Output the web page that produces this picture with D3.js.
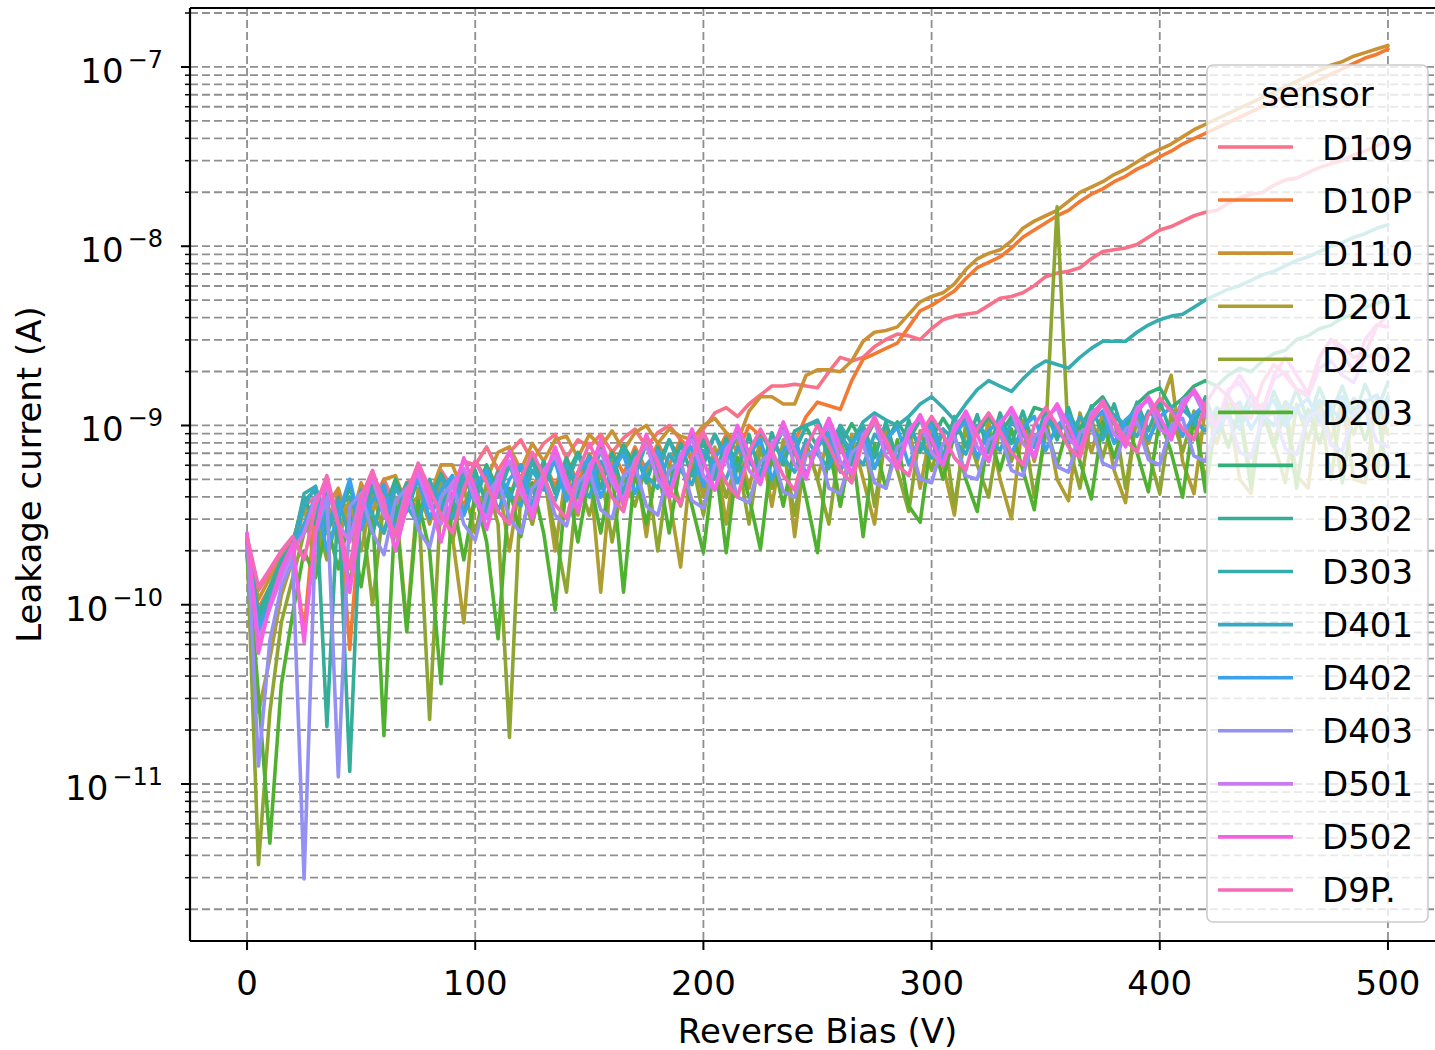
<!DOCTYPE html>
<html>
<head>
<meta charset="utf-8">
<script src="https://cdn.jsdelivr.net/npm/d3@7"></script>
<style>
  body { margin: 0; background: #fff; overflow: hidden; }
  svg text { font-family: "DejaVu Sans", sans-serif; fill: #000; }
</style>
</head>
<body>
<svg id="chart" width="1435" height="1050"></svg>
<script>
// reverse bias sweep, 0 V to 500 V in 5 V steps
const bias = d3.range(0, 501, 5)

const sensors = ["D109", "D10P", "D110", "D201", "D202", "D203", "D301", "D302", "D303",
    "D401", "D402", "D403", "D501", "D502", "D9P."]

// leakage current per sensor as log10(I / A)
const D109 = [-9.62,-9.92,-9.82,-9.72,-9.64,-9.45,-9.40,-9.55,-9.38,-9.50,
    -9.35,-9.42,-9.30,-9.45,-9.32,-9.28,-9.40,-9.25,-9.35,-9.20,
    -9.22,-9.12,-9.25,-9.15,-9.08,-9.20,-9.10,-9.05,-9.18,-9.08,
    -9.12,-9.05,-9.15,-9.07,-9.02,-9.12,-9.04,-9.00,-9.08,-9.13,
    -9.02,-8.93,-8.90,-8.95,-8.88,-8.83,-8.78,-8.78,-8.77,-8.78,
    -8.79,-8.70,-8.62,-8.64,-8.62,-8.56,-8.52,-8.49,-8.50,-8.52,
    -8.46,-8.41,-8.39,-8.38,-8.37,-8.33,-8.29,-8.28,-8.26,-8.22,
    -8.17,-8.15,-8.14,-8.12,-8.07,-8.03,-8.02,-8.01,-7.99,-7.95,
    -7.91,-7.89,-7.86,-7.83,-7.81,-7.80,-7.76,-7.73,-7.71,-7.70,
    -7.66,-7.63,-7.62,-7.59,-7.56,-7.54,-7.52,-7.49,-7.47,-7.44,
    -7.41]
const D10P = [-9.66,-10.02,-9.90,-9.78,-9.68,-10.15,-9.45,-9.60,-9.40,-10.25,
    -9.45,-9.60,-9.38,-9.55,-9.35,-9.50,-9.32,-9.48,-9.30,-9.45,
    -9.28,-9.42,-9.25,-9.40,-9.22,-9.36,-9.20,-9.34,-9.18,-9.32,
    -9.16,-9.28,-9.14,-9.27,-9.12,-9.25,-9.10,-9.22,-9.08,-9.20,
    -9.06,-9.18,-9.05,-9.15,-9.00,-9.06,-9.12,-9.15,-9.09,-8.95,
    -8.87,-8.89,-8.91,-8.75,-8.63,-8.60,-8.57,-8.54,-8.45,-8.36,
    -8.33,-8.29,-8.25,-8.18,-8.12,-8.09,-8.06,-8.01,-7.95,-7.91,
    -7.87,-7.83,-7.80,-7.75,-7.71,-7.68,-7.64,-7.61,-7.57,-7.54,
    -7.50,-7.47,-7.43,-7.40,-7.37,-7.34,-7.31,-7.28,-7.25,-7.22,
    -7.19,-7.16,-7.13,-7.10,-7.07,-7.04,-7.01,-6.98,-6.95,-6.93,
    -6.90]
const D110 = [-9.64,-9.97,-9.85,-9.75,-9.66,-9.40,-9.62,-9.45,-9.35,-9.58,
    -9.32,-9.48,-9.30,-9.28,-9.45,-9.25,-9.40,-9.22,-9.22,-9.38,
    -9.20,-9.30,-9.15,-9.12,-9.25,-9.10,-9.20,-9.08,-9.06,-9.18,
    -9.05,-9.12,-9.03,-9.14,-9.04,-9.00,-9.10,-9.02,-9.06,-9.08,
    -9.00,-8.96,-9.04,-9.09,-8.92,-8.84,-8.84,-8.88,-8.88,-8.72,
    -8.69,-8.69,-8.70,-8.64,-8.53,-8.48,-8.47,-8.45,-8.38,-8.31,
    -8.28,-8.26,-8.21,-8.13,-8.07,-8.04,-8.02,-7.97,-7.90,-7.86,
    -7.83,-7.80,-7.75,-7.70,-7.67,-7.64,-7.60,-7.57,-7.53,-7.49,
    -7.46,-7.43,-7.39,-7.35,-7.32,-7.29,-7.26,-7.23,-7.20,-7.17,
    -7.14,-7.11,-7.08,-7.05,-7.02,-6.99,-6.97,-6.94,-6.92,-6.90,
    -6.88]
const D201 = [-9.70,-10.60,-10.30,-9.95,-9.75,-9.45,-9.80,-9.42,-9.65,-9.40,
    -9.70,-9.38,-9.60,-9.40,-10.12,-9.35,-9.55,-9.32,-9.62,-10.10,
    -9.35,-9.50,-9.30,-9.70,-9.28,-9.55,-9.25,-9.70,-9.25,-9.50,
    -9.22,-9.93,-9.20,-9.45,-9.18,-9.62,-9.15,-9.40,-9.79,-9.15,
    -9.40,-9.12,-9.55,-9.10,-9.35,-9.08,-9.45,-9.08,-9.62,-9.10,
    -9.30,-9.05,-9.45,-9.05,-9.30,-9.55,-9.02,-9.25,-9.00,-9.35,
    -9.00,-9.22,-9.50,-8.98,-9.20,-8.98,-9.30,-9.52,-8.97,-9.20,
    -8.95,-9.30,-9.42,-8.93,-9.15,-8.93,-9.25,-9.43,-8.92,-9.10,
    -8.90,-8.72,-9.20,-9.38,-8.90,-9.10,-8.88,-9.30,-9.38,-8.88,
    -9.10,-8.87,-9.28,-9.35,-8.86,-9.08,-8.86,-9.30,-9.32,-8.85,
    -9.05]
const D202 = [-9.68,-11.45,-10.60,-10.10,-9.85,-9.60,-9.50,-9.75,-9.48,-9.90,
    -9.45,-10.00,-9.42,-9.70,-9.45,-9.40,-10.64,-9.40,-9.65,-9.35,
    -9.60,-9.32,-9.55,-10.74,-9.35,-9.55,-9.28,-9.60,-9.93,-9.30,
    -9.50,-9.25,-9.65,-9.28,-9.45,-9.22,-9.70,-9.22,-9.45,-9.20,
    -9.50,-9.15,-9.40,-9.18,-9.55,-9.12,-9.35,-9.12,-9.50,-9.10,
    -9.30,-9.55,-9.08,-9.30,-9.05,-9.45,-9.05,-9.25,-9.48,-9.03,
    -9.25,-9.02,-9.45,-9.02,-9.22,-9.40,-9.00,-9.20,-8.98,-9.40,
    -9.05,-7.78,-9.10,-9.35,-8.96,-9.18,-8.95,-9.35,-8.95,-9.15,
    -9.38,-8.93,-9.15,-8.92,-9.32,-8.92,-9.12,-8.90,-9.30,-8.90,
    -9.10,-9.32,-8.88,-9.08,-8.88,-9.30,-8.87,-9.05,-8.86,-9.28,
    -8.86]
const D203 = [-9.72,-10.50,-11.33,-10.45,-10.05,-9.70,-9.85,-9.55,-9.80,-9.50,
    -9.90,-9.48,-10.73,-9.45,-10.15,-9.42,-9.70,-10.44,-9.40,-9.75,
    -9.38,-9.65,-10.19,-9.35,-9.62,-9.32,-9.60,-10.03,-9.30,-9.65,
    -9.28,-9.60,-9.25,-9.93,-9.25,-9.55,-9.22,-9.60,-9.20,-9.45,
    -9.71,-9.18,-9.71,-9.18,-9.40,-9.69,-9.15,-9.45,-9.12,-9.40,
    -9.71,-9.12,-9.45,-9.10,-9.62,-9.10,-9.35,-9.08,-9.45,-9.54,
    -9.06,-9.30,-9.05,-9.30,-9.48,-9.04,-9.25,-9.02,-9.25,-9.47,
    -9.00,-9.22,-8.99,-9.20,-9.41,-8.98,-9.18,-8.97,-9.15,-9.37,
    -8.96,-9.15,-9.40,-8.95,-9.37,-8.94,-9.12,-8.93,-9.35,-8.92,
    -9.12,-8.92,-9.35,-8.91,-9.10,-8.90,-9.32,-8.90,-9.08,-8.89,
    -9.30]
const D301 = [-9.63,-10.08,-9.92,-9.80,-9.70,-9.40,-9.55,-9.38,-9.50,-9.35,
    -9.52,-9.33,-9.48,-9.30,-9.45,-9.28,-9.42,-9.27,-9.40,-9.25,
    -9.38,-9.22,-9.36,-9.20,-9.33,-9.18,-9.30,-9.16,-9.28,-9.15,
    -9.27,-9.13,-9.25,-9.11,-9.23,-9.10,-9.22,-9.08,-9.20,-9.07,
    -9.18,-9.05,-9.17,-9.04,-9.15,-9.03,-9.14,-9.02,-9.13,-9.01,
    -9.12,-9.00,-9.11,-8.99,-9.10,-8.98,-9.09,-8.98,-9.08,-8.97,
    -9.07,-8.96,-9.06,-8.96,-9.05,-8.95,-9.05,-8.95,-9.04,-8.90,
    -8.92,-9.04,-8.95,-9.02,-8.90,-8.84,-8.95,-9.00,-8.88,-8.82,
    -8.79,-8.90,-8.85,-8.78,-8.75,-8.78,-8.72,-8.68,-8.70,-8.64,
    -8.60,-8.58,-8.52,-8.50,-8.46,-8.44,-8.40,-8.38,-8.34,-8.32,
    -8.30]
const D302 = [-9.65,-10.05,-9.90,-9.75,-9.66,-9.42,-9.36,-10.68,-9.40,-10.93,
    -9.38,-9.60,-9.35,-9.52,-9.32,-9.55,-9.30,-9.48,-9.28,-9.50,
    -9.25,-9.45,-9.26,-9.42,-9.22,-9.45,-9.20,-9.38,-9.18,-9.40,
    -9.17,-9.35,-9.15,-9.38,-9.14,-9.32,-9.12,-9.35,-9.10,-9.28,
    -9.08,-9.30,-9.07,-9.25,-9.05,-9.28,-9.04,-9.22,-9.03,-9.00,
    -8.98,-9.20,-9.02,-9.22,-9.00,-9.18,-8.98,-9.20,-8.97,-9.15,
    -8.96,-9.18,-8.95,-9.12,-8.94,-9.15,-8.93,-9.10,-8.92,-9.12,
    -8.91,-9.08,-8.90,-9.10,-8.89,-9.05,-8.88,-9.08,-8.87,-9.03,
    -8.86,-9.05,-8.85,-9.00,-8.84,-9.02,-8.83,-8.98,-8.82,-9.00,
    -8.81,-8.96,-8.80,-8.98,-8.79,-8.94,-8.78,-8.96,-8.77,-8.92,
    -8.76]
const D303 = [-9.66,-10.10,-9.95,-9.80,-9.68,-9.38,-9.34,-9.60,-9.45,-9.40,
    -9.55,-9.35,-9.50,-9.33,-9.48,-9.30,-9.46,-9.28,-9.44,-9.26,
    -9.42,-9.24,-9.40,-9.22,-9.38,-9.20,-9.36,-9.18,-9.34,-9.16,
    -9.32,-9.14,-9.30,-9.12,-9.28,-9.10,-9.26,-9.08,-9.24,-9.06,
    -9.22,-9.05,-9.20,-9.04,-9.18,-9.03,-9.16,-9.02,-9.15,-9.00,
    -8.97,-9.12,-9.00,-9.10,-8.98,-8.93,-8.97,-9.00,-8.95,-8.88,
    -8.84,-8.90,-8.97,-8.88,-8.80,-8.75,-8.78,-8.81,-8.74,-8.68,
    -8.64,-8.66,-8.68,-8.62,-8.57,-8.53,-8.53,-8.53,-8.48,-8.44,
    -8.41,-8.39,-8.38,-8.34,-8.30,-8.27,-8.24,-8.22,-8.19,-8.16,
    -8.14,-8.11,-8.08,-8.06,-8.03,-8.00,-7.98,-7.95,-7.93,-7.90,
    -7.88]
const D401 = [-9.64,-10.12,-9.98,-9.80,-9.68,-9.45,-9.34,-9.55,-9.42,-9.62,
    -9.36,-9.50,-9.60,-9.35,-9.45,-9.55,-9.32,-9.42,-9.52,-9.30,
    -9.40,-9.48,-9.27,-9.38,-9.45,-9.25,-9.35,-9.42,-9.22,-9.32,
    -9.40,-9.20,-9.30,-9.38,-9.18,-9.28,-9.35,-9.16,-9.25,-9.33,
    -9.14,-9.22,-9.30,-9.12,-9.20,-9.28,-9.10,-9.18,-9.26,-9.08,
    -9.16,-9.24,-9.06,-9.14,-9.22,-9.05,-9.12,-9.20,-9.03,-9.10,
    -9.18,-9.02,-9.08,-9.16,-9.00,-9.06,-9.14,-8.98,-9.05,-9.12,
    -8.97,-9.03,-9.10,-8.95,-9.02,-9.08,-8.94,-9.00,-9.06,-8.92,
    -8.98,-9.05,-8.91,-8.97,-9.03,-8.90,-8.95,-9.02,-8.88,-8.94,
    -9.00,-8.87,-8.92,-8.98,-8.86,-8.91,-8.97,-8.85,-8.90,-8.96,
    -8.84]
const D402 = [-9.63,-10.15,-10.00,-9.82,-9.70,-9.55,-9.40,-9.70,-9.50,-9.30,
    -9.58,-9.42,-9.33,-9.60,-9.38,-9.30,-9.52,-9.36,-9.28,-9.50,
    -9.33,-9.25,-9.48,-9.30,-9.22,-9.45,-9.28,-9.20,-9.42,-9.26,
    -9.18,-9.40,-9.24,-9.16,-9.38,-9.22,-9.14,-9.36,-9.20,-9.12,
    -9.34,-9.18,-9.10,-9.32,-9.16,-9.08,-9.30,-9.14,-9.06,-9.28,
    -9.12,-9.04,-9.26,-9.10,-9.03,-9.24,-9.08,-9.01,-9.22,-9.06,
    -9.00,-9.20,-9.04,-8.98,-9.18,-9.03,-8.97,-9.16,-9.01,-8.95,
    -9.14,-9.00,-8.94,-9.12,-8.98,-8.92,-9.10,-8.97,-8.91,-9.08,
    -8.95,-8.90,-9.06,-8.94,-8.88,-9.04,-8.92,-8.87,-9.02,-8.91,
    -8.86,-9.00,-8.90,-8.85,-8.98,-8.88,-8.84,-8.96,-8.87,-8.83,
    -8.94]
const D403 = [-9.60,-10.90,-10.20,-9.90,-9.75,-11.53,-9.60,-9.40,-10.96,-9.45,
    -9.38,-9.60,-9.72,-9.42,-9.35,-9.58,-9.68,-9.40,-9.32,-9.55,
    -9.64,-9.38,-9.30,-9.52,-9.60,-9.35,-9.28,-9.50,-9.56,-9.32,
    -9.25,-9.47,-9.52,-9.28,-9.22,-9.45,-9.50,-9.25,-9.20,-9.42,
    -9.46,-9.22,-9.18,-9.40,-9.43,-9.20,-9.15,-9.37,-9.40,-9.17,
    -9.12,-9.35,-9.38,-9.15,-9.10,-9.32,-9.35,-9.12,-9.08,-9.30,
    -9.32,-9.10,-9.06,-9.28,-9.30,-9.08,-9.04,-9.25,-9.28,-9.06,
    -9.02,-9.23,-9.26,-9.04,-9.00,-9.21,-9.24,-9.02,-8.98,-9.19,
    -9.22,-9.00,-8.96,-9.17,-9.20,-8.98,-8.95,-9.15,-9.18,-8.96,
    -8.93,-9.13,-9.16,-8.95,-8.92,-9.11,-9.14,-8.93,-8.90,-9.09,
    -9.12]
const D501 = [-9.62,-10.20,-10.02,-9.85,-9.70,-9.60,-9.40,-9.35,-9.55,-9.65,
    -9.38,-9.30,-9.50,-9.60,-9.35,-9.27,-9.45,-9.55,-9.32,-9.24,
    -9.42,-9.52,-9.28,-9.20,-9.38,-9.48,-9.25,-9.17,-9.35,-9.45,
    -9.22,-9.14,-9.32,-9.42,-9.19,-9.11,-9.30,-9.40,-9.16,-9.08,
    -9.28,-9.36,-9.13,-9.05,-9.25,-9.33,-9.10,-9.03,-9.22,-9.30,
    -9.08,-9.00,-9.20,-9.27,-9.05,-8.98,-9.17,-9.24,-9.02,-8.96,
    -9.15,-9.22,-9.00,-8.94,-9.12,-9.20,-8.98,-8.92,-9.10,-9.17,
    -8.96,-8.90,-9.07,-9.14,-8.93,-8.88,-9.05,-9.10,-8.90,-8.86,
    -9.02,-9.06,-8.86,-8.82,-8.95,-9.00,-8.80,-8.76,-8.88,-8.92,
    -8.74,-8.70,-8.80,-8.84,-8.68,-8.64,-8.72,-8.76,-8.62,-8.60,
    -8.64]
const D502 = [-9.60,-10.27,-10.00,-9.80,-9.66,-10.21,-9.60,-9.30,-9.55,-9.93,
    -9.50,-9.26,-9.42,-9.70,-9.45,-9.22,-9.40,-9.65,-9.40,-9.18,
    -9.36,-9.58,-9.35,-9.14,-9.32,-9.52,-9.30,-9.12,-9.30,-9.48,
    -9.27,-9.08,-9.26,-9.44,-9.24,-9.05,-9.22,-9.40,-9.20,-9.02,
    -9.20,-9.36,-9.17,-9.00,-9.16,-9.32,-9.14,-8.98,-9.14,-9.29,
    -9.10,-8.96,-9.12,-9.27,-9.08,-8.95,-9.10,-9.24,-9.05,-8.94,
    -9.08,-9.22,-9.03,-8.92,-9.05,-9.20,-9.00,-8.90,-9.02,-9.18,
    -8.98,-8.88,-9.00,-9.15,-8.96,-8.86,-8.98,-9.12,-8.93,-8.84,
    -8.95,-9.08,-8.90,-8.80,-8.90,-9.00,-8.82,-8.72,-8.82,-8.92,
    -8.72,-8.62,-8.72,-8.82,-8.62,-8.52,-8.60,-8.70,-8.52,-8.44,
    -8.45]
const D9P = [-9.62,-9.90,-9.80,-9.70,-9.62,-9.75,-9.45,-9.28,-9.55,-9.80,
    -9.40,-9.25,-9.45,-9.62,-9.38,-9.21,-9.35,-9.50,-9.60,-9.35,
    -9.20,-9.32,-9.48,-9.55,-9.30,-9.15,-9.28,-9.44,-9.52,-9.26,
    -9.10,-9.24,-9.40,-9.48,-9.22,-9.07,-9.20,-9.36,-9.44,-9.18,
    -9.04,-9.17,-9.32,-9.40,-9.15,-9.02,-9.14,-9.28,-9.36,-9.12,
    -9.00,-9.11,-9.25,-9.32,-9.08,-8.97,-9.08,-9.22,-9.28,-9.05,
    -8.95,-9.05,-9.18,-9.25,-9.02,-8.93,-9.03,-9.15,-9.22,-9.00,
    -8.90,-9.00,-9.12,-9.18,-8.97,-8.88,-8.97,-9.08,-9.15,-8.94,
    -8.85,-8.92,-9.02,-9.08,-8.88,-8.78,-8.84,-8.92,-8.96,-8.76,
    -8.66,-8.72,-8.80,-8.82,-8.62,-8.52,-8.56,-8.62,-8.60,-8.45,
    -8.38]

const logCurrents = [D109, D10P, D110, D201, D202, D203, D301, D302, D303,
    D401, D402, D403, D501, D502, D9P]

const xTicks = [0, 100, 200, 300, 400, 500]
const yDecades = [-11, -10, -9, -8, -7]

// seaborn "husl" palette (old husl.py maths), 15 hues
const M = [[3.2406, -1.5372, -0.4986], [-0.9689, 1.8758, 0.0415], [0.0557, -0.2040, 1.0570]]
function maxChroma(L, H) {
    const hr = H * Math.PI / 180
    const sinH = Math.sin(hr), cosH = Math.cos(hr)
    const sub1 = Math.pow(L + 16, 3) / 1560896
    const sub2 = sub1 > 0.008856 ? sub1 : L / 903.3
    let result = Infinity
    M.forEach(([m1, m2, m3]) => {
        const tp = (0.99915 * m1 + 1.05122 * m2 + 1.14460 * m3) * sub2
        const rbottom = 0.86330 * m3 - 0.17266 * m2
        const lbottom = 0.12949 * m3 - 0.38848 * m1
        const bt = (rbottom * sinH + lbottom * cosH) * sub2
        for (const t of [0, 1]) {
            const C = L * (tp - 1.05122 * t) / (bt + 0.17266 * sinH * t)
            if (C > 0 && C < result) result = C
        }
    })
    return result
}
function huslToHex(h, s, l) {
    const C = maxChroma(l, h) / 100 * s
    const hr = h * Math.PI / 180
    const U = Math.cos(hr) * C, V = Math.sin(hr) * C
    const t = (l + 16) / 116
    const Y = Math.pow(t, 3) > 0.008856 ? Math.pow(t, 3) : (116 * t - 16) / 903.3
    const varU = U / (13 * l) + 0.19784
    const varV = V / (13 * l) + 0.46834
    const X = -(9 * Y * varU) / ((varU - 4) * varV - varU * varV)
    const Z = (9 * Y - 15 * varV * Y - varV * X) / (3 * varV)
    const rgb = M.map(r => {
        const c = r[0] * X + r[1] * Y + r[2] * Z
        const v = c <= 0.0031308 ? 12.92 * c : 1.055 * Math.pow(c, 1 / 2.4) - 0.055
        return Math.round(Math.max(0, Math.min(1, v)) * 255)
    })
    return d3.rgb(...rgb).formatHex()
}
const colors = sensors.map((s, i) => huslToHex(((i / sensors.length + 0.01) % 1) * 359, 0.9 * 99, 0.65 * 99))

const svg = d3.select("#chart")
svg.append("rect").attr("width", 1435).attr("height", 1050).attr("fill", "#fff")

const axLeft = 190, axTop = 8, axBottom = 941, axRight = 1445
const x = d3.scaleLinear().domain([-25, 525]).range([axLeft, axRight])
const y = d3.scaleLog().domain([Math.pow(10, -11.876), Math.pow(10, -6.671)]).range([axBottom, axTop])

// all decade and minor tick values inside the y range
const yAll = []
for (let k = -12; k <= -7; k++) {
    for (let m = 1; m <= 9; m++) {
        const v = m * Math.pow(10, k)
        if (v >= y.domain()[0] && v <= y.domain()[1]) yAll.push({ v: v, major: m === 1 })
    }
}

// grid (both major and minor on y, major on x)
const grid = svg.append("g")
    .attr("stroke", "#8f8f8f").attr("stroke-width", 1.8).attr("stroke-dasharray", "8,4")
grid.selectAll(".gy").data(yAll).enter().append("line")
    .attr("x1", axLeft).attr("x2", axRight)
    .attr("y1", d => y(d.v)).attr("y2", d => y(d.v))
grid.selectAll(".gx").data(xTicks).enter().append("line")
    .attr("x1", d => x(d)).attr("x2", d => x(d))
    .attr("y1", axTop).attr("y2", axBottom)

// one line per sensor, drawn in hue order
const line = d3.line()
    .x((d, i) => x(bias[i]))
    .y(d => y(Math.pow(10, d)))
svg.append("g").selectAll("path")
    .data(logCurrents)
    .enter()
    .append("path")
    .attr("d", d => line(d))
    .attr("fill", "none")
    .attr("stroke", (d, i) => colors[i])
    .attr("stroke-width", 3.6)
    .attr("stroke-linejoin", "round")
    .attr("stroke-linecap", "round")

// spines
const spines = svg.append("g").attr("stroke", "#000").attr("stroke-width", 2.2)
spines.append("line").attr("x1", axLeft).attr("x2", axLeft).attr("y1", axTop).attr("y2", axBottom)
spines.append("line").attr("x1", axLeft).attr("x2", axRight).attr("y1", axBottom).attr("y2", axBottom)
spines.append("line").attr("x1", axLeft).attr("x2", axRight).attr("y1", axTop).attr("y2", axTop)

// ticks
svg.append("g").selectAll("line").data(xTicks).enter().append("line")
    .attr("x1", d => x(d)).attr("x2", d => x(d))
    .attr("y1", axBottom).attr("y2", axBottom + 9)
    .attr("stroke", "#000").attr("stroke-width", 2)
svg.append("g").selectAll("line").data(yAll).enter().append("line")
    .attr("x1", axLeft).attr("x2", d => d.major ? axLeft - 9 : axLeft - 5)
    .attr("y1", d => y(d.v)).attr("y2", d => y(d.v))
    .attr("stroke", "#000").attr("stroke-width", d => d.major ? 2 : 1.5)

// tick labels
svg.append("g").selectAll("text").data(xTicks).enter().append("text")
    .attr("x", d => x(d)).attr("y", 995)
    .attr("text-anchor", "middle")
    .attr("font-size", 34)
    .text(d => d)

const yLabels = svg.append("g").selectAll("text").data(yDecades).enter().append("text")
    .attr("x", 163).attr("y", d => y(Math.pow(10, d)) + 16)
    .attr("text-anchor", "end")
    .attr("font-size", 34)
yLabels.append("tspan").text("10")
yLabels.append("tspan")
    .attr("font-size", 24).attr("dx", 4).attr("dy", -15)
    .text(d => "\u2212" + Math.abs(d))

// axis titles
svg.append("text")
    .attr("x", (axLeft + axRight) / 2).attr("y", 1043)
    .attr("text-anchor", "middle").attr("font-size", 34)
    .text("Reverse Bias (V)")
svg.append("text")
    .attr("transform", `translate(41, ${(axTop + axBottom) / 2}) rotate(-90)`)
    .attr("text-anchor", "middle").attr("font-size", 34)
    .text("Leakage current (A)")

// legend
const legX = 1207, legY = 65, legW = 221, legH = 857
const legend = svg.append("g")
legend.append("rect")
    .attr("x", legX).attr("y", legY).attr("width", legW).attr("height", legH)
    .attr("rx", 6)
    .attr("fill", "#fff").attr("fill-opacity", 0.8)
    .attr("stroke", "#cccccc").attr("stroke-width", 1.6)
legend.append("text")
    .attr("x", legX + legW / 2).attr("y", 106)
    .attr("text-anchor", "middle").attr("font-size", 34)
    .text("sensor")
const entry = legend.selectAll(".entry").data(sensors).enter().append("g")
    .attr("transform", (d, i) => `translate(0, ${147 + i * 53.07})`)
entry.append("line")
    .attr("x1", 1218).attr("x2", 1293)
    .attr("stroke", (d, i) => colors[i]).attr("stroke-width", 3.6)
entry.append("text")
    .attr("x", 1322).attr("y", 12.5)
    .attr("font-size", 34)
    .text(d => d)
</script>
</body>
</html>
